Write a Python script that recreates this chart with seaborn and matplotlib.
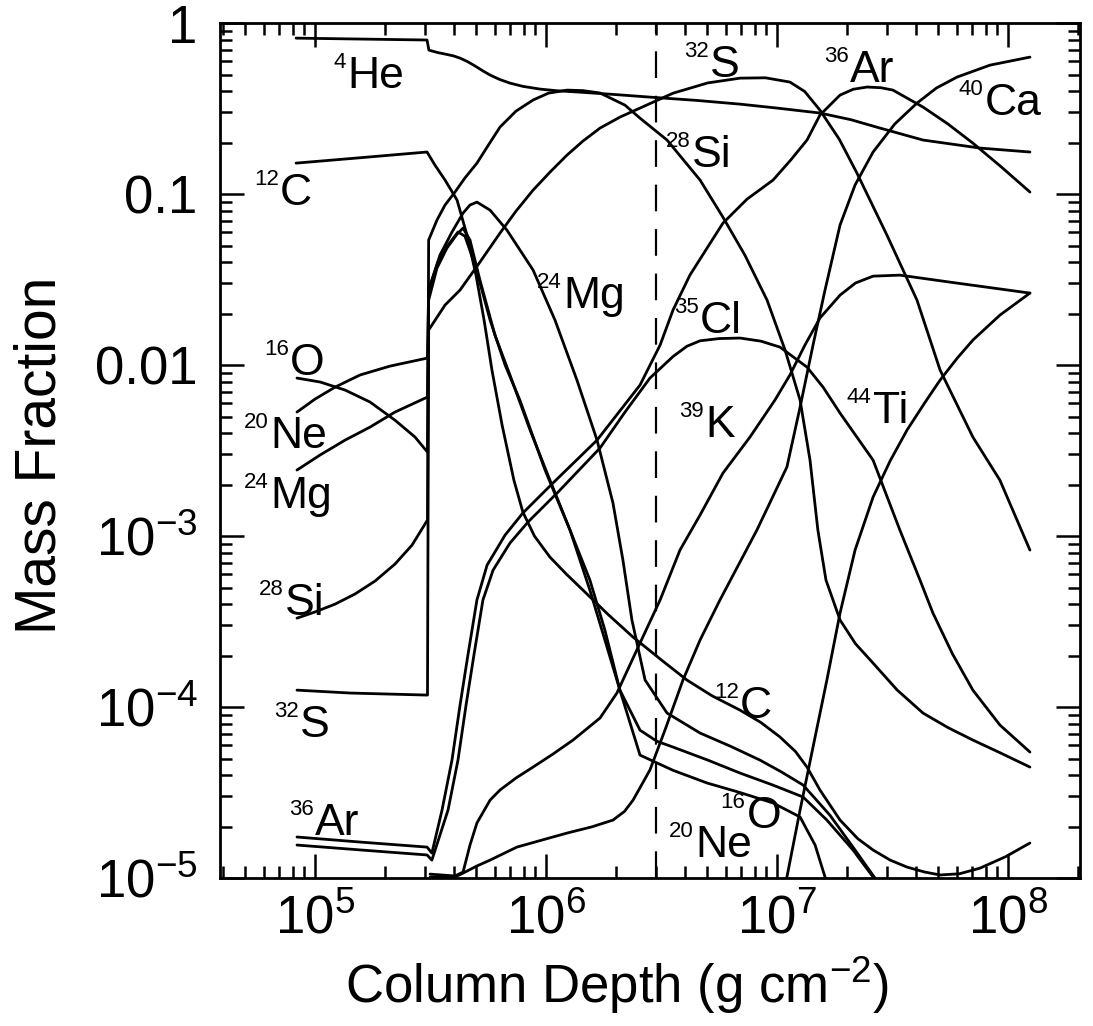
import numpy as np
import pandas as pd
import matplotlib
matplotlib.use("Agg")
import matplotlib.pyplot as plt
import seaborn as sns
from matplotlib.ticker import FixedLocator, FixedFormatter, LogLocator, NullFormatter
from matplotlib.transforms import offset_copy

# ---- data: log10(column depth [g cm^-2]) and log10(mass fraction) ----
he4_lx = [4.918, 5.485, 5.493, 5.530, 5.563, 5.600, 5.628, 5.660, 5.693, 5.725, 5.758, 5.800, 5.844, 5.900, 5.974, 6.050, 6.147, 6.300, 6.450, 6.650, 6.840, 7.000, 7.186, 7.320, 7.446, 7.632, 7.879, 8.095]
he4_ly = [-0.088, -0.099, -0.158, -0.172, -0.181, -0.192, -0.205, -0.225, -0.251, -0.278, -0.304, -0.330, -0.351, -0.370, -0.386, -0.396, -0.404, -0.418, -0.433, -0.452, -0.474, -0.497, -0.526, -0.565, -0.614, -0.684, -0.731, -0.754]

c12_lx = [4.918, 5.200, 5.485, 5.519, 5.563, 5.615, 5.658, 5.697, 5.732, 5.766, 5.810, 5.861, 5.900, 5.950, 6.017, 6.090, 6.160, 6.270, 6.377, 6.500, 6.610, 6.720, 6.840, 6.930, 7.013, 7.080, 7.130, 7.186, 7.273, 7.350, 7.416, 7.490, 7.563, 7.640, 7.706, 7.790, 7.879, 7.990, 8.095]
c12_ly = [-0.819, -0.787, -0.754, -0.830, -0.918, -1.035, -1.240, -1.474, -1.737, -2.029, -2.351, -2.673, -2.860, -3.000, -3.123, -3.225, -3.316, -3.460, -3.591, -3.725, -3.842, -3.935, -4.018, -4.090, -4.175, -4.260, -4.351, -4.485, -4.661, -4.770, -4.836, -4.895, -4.936, -4.965, -4.982, -4.975, -4.942, -4.875, -4.795]

o16_lx = [4.922, 5.022, 5.130, 5.238, 5.346, 5.433, 5.487, 5.492, 5.528, 5.571, 5.615, 5.641, 5.671, 5.714, 5.779, 5.844, 5.931, 6.017, 6.104, 6.190, 6.255, 6.320, 6.407, 6.480, 6.550, 6.700, 6.840, 6.980, 7.113, 7.216, 7.329, 7.416, 7.468]
o16_ly = [-2.076, -2.099, -2.146, -2.216, -2.322, -2.421, -2.509, -1.620, -1.433, -1.316, -1.234, -1.199, -1.269, -1.503, -1.825, -2.058, -2.380, -2.673, -2.965, -3.316, -3.608, -3.901, -4.135, -4.200, -4.234, -4.310, -4.386, -4.455, -4.526, -4.661, -4.836, -4.994, -5.099]

ne20_lx = [4.922, 5.000, 5.087, 5.195, 5.325, 5.487, 5.492, 5.532, 5.576, 5.619, 5.649, 5.693, 5.758, 5.823, 5.887, 5.996, 6.104, 6.190, 6.255, 6.320, 6.407, 6.550, 6.697, 6.840, 6.983, 7.100, 7.165, 7.208, 7.238]
ne20_ly = [-2.275, -2.199, -2.129, -2.058, -2.006, -1.959, -1.561, -1.398, -1.298, -1.222, -1.246, -1.415, -1.737, -2.000, -2.205, -2.614, -2.965, -3.257, -3.550, -3.901, -4.281, -4.370, -4.444, -4.500, -4.561, -4.643, -4.807, -4.994, -5.099]

mg24_lx = [4.922, 5.022, 5.130, 5.238, 5.346, 5.487, 5.492, 5.541, 5.593, 5.641, 5.671, 5.701, 5.758, 5.831, 5.944, 6.039, 6.134, 6.221, 6.290, 6.333, 6.372, 6.429, 6.524, 6.667, 6.800, 6.926, 7.020, 7.113, 7.229, 7.338, 7.424, 7.489]
mg24_ly = [-2.614, -2.526, -2.439, -2.363, -2.275, -2.187, -1.561, -1.357, -1.222, -1.111, -1.064, -1.047, -1.094, -1.211, -1.444, -1.737, -2.088, -2.439, -2.807, -3.140, -3.491, -3.842, -4.035, -4.152, -4.230, -4.310, -4.380, -4.456, -4.632, -4.836, -5.000, -5.129]

si28_lx = [4.922, 5.000, 5.087, 5.173, 5.260, 5.346, 5.420, 5.487, 5.492, 5.528, 5.563, 5.606, 5.649, 5.701, 5.750, 5.801, 5.870, 5.944, 6.010, 6.091, 6.160, 6.234, 6.342, 6.407, 6.524, 6.667, 6.766, 6.861, 6.957, 7.035, 7.100, 7.143, 7.177, 7.212, 7.273, 7.340, 7.416, 7.520, 7.632, 7.740, 7.848, 7.970, 8.095]
si28_ly = [-3.480, -3.444, -3.398, -3.339, -3.263, -3.164, -3.053, -2.906, -1.269, -1.152, -1.064, -0.988, -0.906, -0.819, -0.715, -0.608, -0.515, -0.450, -0.410, -0.392, -0.395, -0.409, -0.480, -0.556, -0.684, -0.918, -1.135, -1.357, -1.620, -1.912, -2.205, -2.556, -2.965, -3.257, -3.491, -3.630, -3.743, -3.900, -4.035, -4.120, -4.193, -4.270, -4.351]

s32_lx = [4.922, 5.152, 5.487, 5.492, 5.563, 5.628, 5.714, 5.801, 5.870, 5.944, 6.020, 6.091, 6.160, 6.234, 6.320, 6.407, 6.550, 6.700, 6.840, 6.950, 7.056, 7.120, 7.186, 7.270, 7.346, 7.476, 7.606, 7.706, 7.848, 7.965, 8.095]
s32_ly = [-3.901, -3.918, -3.930, -1.795, -1.649, -1.561, -1.398, -1.228, -1.100, -0.977, -0.868, -0.772, -0.690, -0.614, -0.550, -0.497, -0.410, -0.350, -0.322, -0.320, -0.345, -0.400, -0.509, -0.680, -0.877, -1.240, -1.620, -2.029, -2.421, -2.673, -3.082]

ar36_lx = [4.922, 5.200, 5.485, 5.506, 5.550, 5.593, 5.628, 5.662, 5.701, 5.745, 5.823, 5.900, 6.030, 6.221, 6.407, 6.494, 6.550, 6.623, 6.700, 6.766, 6.870, 6.983, 7.060, 7.130, 7.186, 7.273, 7.330, 7.390, 7.450, 7.502, 7.632, 7.740, 7.848, 7.970, 8.095]
ar36_ly = [-4.760, -4.790, -4.819, -4.854, -4.602, -4.310, -3.988, -3.696, -3.374, -3.170, -2.994, -2.865, -2.690, -2.439, -2.117, -1.883, -1.678, -1.474, -1.310, -1.170, -1.030, -0.918, -0.800, -0.684, -0.538, -0.421, -0.387, -0.374, -0.378, -0.392, -0.491, -0.590, -0.702, -0.840, -0.988]

cl35_lx = [4.922, 5.200, 5.485, 5.506, 5.576, 5.619, 5.654, 5.688, 5.727, 5.771, 5.844, 5.922, 6.052, 6.234, 6.342, 6.450, 6.550, 6.610, 6.667, 6.750, 6.840, 6.930, 7.013, 7.130, 7.200, 7.273, 7.416, 7.532, 7.619, 7.675, 7.760, 7.848, 7.965, 8.095]
cl35_ly = [-4.807, -4.836, -4.865, -4.895, -4.602, -4.310, -3.988, -3.696, -3.374, -3.199, -3.041, -2.918, -2.743, -2.485, -2.275, -2.076, -1.950, -1.890, -1.858, -1.845, -1.842, -1.860, -1.895, -2.012, -2.130, -2.281, -2.556, -2.965, -3.257, -3.450, -3.690, -3.901, -4.105, -4.263]

k39_lx = [5.498, 5.606, 5.641, 5.671, 5.701, 5.758, 5.801, 5.870, 5.944, 6.030, 6.117, 6.234, 6.307, 6.407, 6.494, 6.580, 6.667, 6.766, 6.883, 6.991, 7.056, 7.121, 7.186, 7.273, 7.340, 7.416, 7.532, 7.749, 8.095]
k39_ly = [-4.977, -4.988, -4.965, -4.807, -4.678, -4.544, -4.485, -4.415, -4.351, -4.275, -4.193, -4.064, -3.918, -3.626, -3.374, -3.082, -2.877, -2.632, -2.421, -2.205, -2.058, -1.883, -1.725, -1.591, -1.520, -1.480, -1.474, -1.515, -1.579]

ca40_lx = [5.498, 5.606, 5.641, 5.700, 5.758, 5.874, 5.990, 6.091, 6.200, 6.290, 6.340, 6.377, 6.450, 6.515, 6.593, 6.667, 6.753, 6.913, 7.043, 7.100, 7.156, 7.208, 7.273, 7.338, 7.416, 7.510, 7.606, 7.690, 7.779, 7.922, 8.095]
ca40_ly = [-4.994, -4.994, -4.971, -4.930, -4.895, -4.819, -4.775, -4.737, -4.700, -4.661, -4.610, -4.544, -4.368, -4.135, -3.842, -3.608, -3.374, -2.965, -2.596, -2.246, -1.883, -1.561, -1.181, -0.947, -0.754, -0.590, -0.468, -0.380, -0.316, -0.246, -0.199]

ti44_lx = [7.026, 7.043, 7.100, 7.156, 7.216, 7.273, 7.338, 7.416, 7.490, 7.563, 7.640, 7.706, 7.780, 7.848, 7.965, 8.095]
ti44_ly = [-5.129, -4.994, -4.602, -4.234, -3.842, -3.450, -3.082, -2.772, -2.560, -2.380, -2.220, -2.088, -1.960, -1.854, -1.708, -1.579]

species = ["4He", "12C", "16O", "20Ne", "24Mg", "28Si", "32S", "36Ar", "35Cl", "39K", "40Ca", "44Ti"]
curves_lx = [he4_lx, c12_lx, o16_lx, ne20_lx, mg24_lx, si28_lx, s32_lx, ar36_lx, cl35_lx, k39_lx, ca40_lx, ti44_lx]
curves_ly = [he4_ly, c12_ly, o16_ly, ne20_ly, mg24_ly, si28_ly, s32_ly, ar36_ly, cl35_ly, k39_ly, ca40_ly, ti44_ly]

boundary_depth = 3.0e6

# labels: (mass number, element)
label_mass = ["4", "12", "16", "20", "24", "28", "32", "36", "24", "32", "36", "40", "28", "35", "39", "44", "12", "16", "20"]
label_elem = ["He", "C", "O", "Ne", "Mg", "Si", "S", "Ar", "Mg", "S", "Ar", "Ca", "Si", "Cl", "K", "Ti", "C", "O", "Ne"]
# anchor of the element symbol (axes fraction): left edge, baseline
label_fx = [0.1477, 0.0698, 0.0814, 0.0581, 0.0581, 0.0756, 0.0930, 0.1105, 0.3988, 0.5698, 0.7326, 0.8895, 0.5488, 0.5581, 0.5640, 0.7593, 0.6047, 0.6128, 0.5523]
label_fy = [0.9240, 0.7871, 0.5883, 0.5029, 0.4327, 0.3076, 0.1649, 0.0503, 0.6667, 0.9368, 0.9310, 0.8924, 0.8316, 0.6374, 0.5158, 0.5322, 0.1871, 0.0585, 0.0246]

# ---- build long-form table ----
frames = []
for name, lx, ly in zip(species, curves_lx, curves_ly):
    frames.append(pd.DataFrame({
        "species": name,
        "depth": np.power(10.0, np.array(lx)),
        "fraction": np.power(10.0, np.array(ly)),
    }))
df = pd.concat(frames, ignore_index=True)

# ---- style ----
sns.set_theme(style="ticks")
plt.rcParams["font.family"] = ["Liberation Sans", "DejaVu Sans"]
plt.rcParams["mathtext.fontset"] = "custom"
plt.rcParams["mathtext.rm"] = "Liberation Sans"
plt.rcParams["mathtext.it"] = "Liberation Sans:italic"
plt.rcParams["mathtext.bf"] = "Liberation Sans:bold"
plt.rcParams["axes.linewidth"] = 2.0
for key in ["text.color", "axes.labelcolor", "xtick.color", "ytick.color", "axes.edgecolor"]:
    plt.rcParams[key] = "black"

fig = plt.figure(figsize=(10.93, 10.26), dpi=100)
fig.patch.set_facecolor("white")
ax = fig.add_axes([0.2013, 0.1442, 0.7868, 0.8333])
ax.set_facecolor("white")
ax.set_xscale("log")
ax.set_yscale("log")

sns.lineplot(data=df, x="depth", y="fraction", units="species", estimator=None,
             sort=False, color="black", linewidth=2.0, ax=ax, legend=False)
for ln in ax.get_lines():
    ln.set_solid_joinstyle("round")

ax.axvline(boundary_depth, color="black", linewidth=1.6, linestyle=(0, (12, 8)))

ax.set_xlim(3.88e4, 2.05e8)
ax.set_ylim(1e-5, 1.0)

xt = [1e5, 1e6, 1e7, 1e8]
ax.xaxis.set_major_locator(FixedLocator(xt))
ax.xaxis.set_major_formatter(FixedFormatter([r"$10^{5}$", r"$10^{6}$", r"$10^{7}$", r"$10^{8}$"]))
yt = [1e-5, 1e-4, 1e-3, 1e-2, 1e-1, 1.0]
ax.yaxis.set_major_locator(FixedLocator(yt))
ax.yaxis.set_major_formatter(FixedFormatter([r"$10^{-5}$", r"$10^{-4}$", r"$10^{-3}$", "0.01", "0.1", "1"]))
ax.xaxis.set_minor_locator(LogLocator(base=10, subs=np.arange(2, 10), numticks=20))
ax.yaxis.set_minor_locator(LogLocator(base=10, subs=np.arange(2, 10), numticks=20))
ax.xaxis.set_minor_formatter(NullFormatter())
ax.yaxis.set_minor_formatter(NullFormatter())

ax.tick_params(which="both", direction="in", top=True, right=True, width=1.8, color="black",
               labelcolor="black")
ax.tick_params(which="major", length=17, labelsize=38)
ax.tick_params(axis="y", which="major", pad=16)
ax.tick_params(axis="x", which="major", pad=12)
ax.tick_params(which="minor", length=8.5)
for s in ax.spines.values():
    s.set_color("black")
    s.set_linewidth(2.0)

ax.set_xlabel(r"Column Depth (g cm$^{-2}$)", fontsize=38, color="black")
ax.set_ylabel("Mass Fraction", fontsize=41, color="black")
ax.xaxis.set_label_coords(0.4616, -0.125)
ax.xaxis.label.set_verticalalignment("center")
ax.yaxis.set_label_coords(-0.209, 0.495)
ax.yaxis.label.set_verticalalignment("center")

for m, e, fx, fy in zip(label_mass, label_elem, label_fx, label_fy):
    ax.text(fx, fy, e, transform=ax.transAxes, fontsize=32, ha="left", va="baseline", color="black")
    tr = offset_copy(ax.transAxes, fig=fig, x=-1.0, y=14.5, units="points")
    ax.text(fx, fy, m, transform=tr, fontsize=16, ha="right", va="baseline", color="black")

fig.savefig("out.png", dpi=100, facecolor="white")
